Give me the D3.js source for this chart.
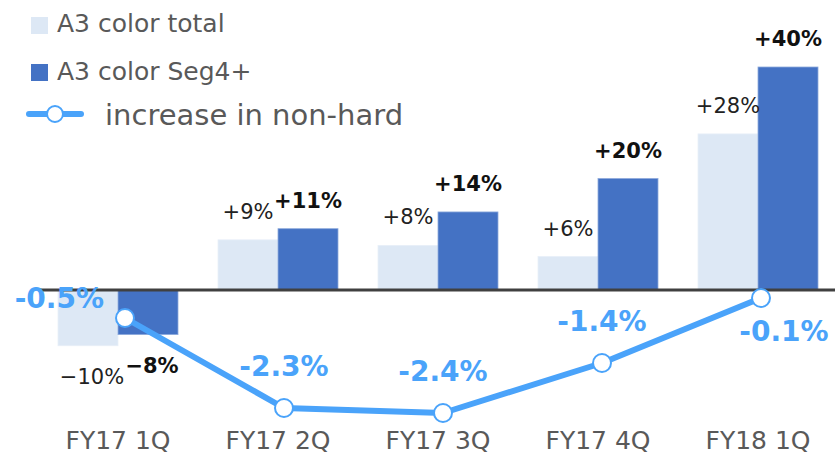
<!DOCTYPE html>
<html>
<head>
<meta charset="utf-8">
<script src="https://cdn.jsdelivr.net/npm/d3@7/dist/d3.min.js"></script>
<style>
  body { margin: 0; background: #fff; }
  svg { display: block; font-family: 'DejaVu Sans', sans-serif; }
</style>
</head>
<body>
<div id="chart"></div>
<script>
const categories = ['FY17 1Q', 'FY17 2Q', 'FY17 3Q', 'FY17 4Q', 'FY18 1Q'];
const colorTotal = [-10, 9, 8, 6, 28];
const colorSeg4 = [-8, 11, 14, 20, 40];
const nonHard = [-0.5, -2.3, -2.4, -1.4, -0.1];
// where each line label sits relative to its point
const lineLabelSide = ['left', 'top', 'top', 'top', 'below'];

const seriesNames = ['A3 color total', 'A3 color Seg4+', 'increase in non-hard'];

const width = 835;
const height = 454;

const lightColor = '#dde8f5';
const darkColor = '#4472c4';
const lineColor = '#4aa3fa';
const axisColor = '#404040';
const textGray = '#595959';

const svg = d3.select('#chart')
  .append('svg')
  .attr('width', width)
  .attr('height', height);

const x0 = d3.scaleBand()
  .domain(categories)
  .range([38, 838])
  .paddingInner(0.25)
  .paddingOuter(0.125);

const x1 = d3.scaleBand()
  .domain(['total', 'seg'])
  .range([0, x0.bandwidth()]);

const y = d3.scaleLinear()
  .domain([0, 40])
  .range([290, 67]);

const xLine = d3.scalePoint()
  .domain(categories)
  .range([125, 761]);

const yLine = d3.scaleLinear()
  .domain([0, -2.4])
  .range([293, 413]);

const barRows = categories.map((c, i) => ({
  cat: c,
  values: [
    { key: 'total', v: colorTotal[i] },
    { key: 'seg', v: colorSeg4[i] }
  ]
}));

const groups = svg.append('g')
  .attr('class', 'bars')
  .selectAll('g')
  .data(barRows)
  .join('g')
  .attr('transform', d => `translate(${x0(d.cat)},0)`);

groups.selectAll('rect')
  .data(d => d.values)
  .join('rect')
  .attr('x', d => x1(d.key))
  .attr('width', x1.bandwidth())
  .attr('y', d => Math.min(y(d.v), y(0)))
  .attr('height', d => Math.abs(y(d.v) - y(0)))
  .attr('fill', d => d.key === 'total' ? lightColor : darkColor)
  .attr('stroke', d => d.key === 'total' ? '#e8eff8' : '#8eaadc')
  .attr('stroke-width', 0.8);

const fmtBar = v => (v > 0 ? '+' : '\u2212') + Math.abs(v) + '%';

groups.selectAll('text')
  .data(d => d.values)
  .join('text')
  .attr('x', d => x1(d.key) + x1.bandwidth() / 2 + (d.v < 0 ? 4 : 0))
  .attr('y', d => d.v >= 0 ? y(d.v) - 21 : y(d.v) + 38)
  .attr('text-anchor', 'middle')
  .style('font-size', '21px')
  .style('font-weight', d => d.key === 'seg' ? 700 : 400)
  .attr('fill', d => d.key === 'seg' ? '#111' : '#222')
  .text(d => fmtBar(d.v));

// zero line
svg.append('line')
  .attr('x1', 38)
  .attr('x2', width)
  .attr('y1', y(0))
  .attr('y2', y(0))
  .attr('stroke', axisColor)
  .attr('stroke-width', 3);

// category labels
svg.append('g')
  .selectAll('text')
  .data(categories)
  .join('text')
  .attr('x', d => x0(d) + x0.bandwidth() / 2)
  .attr('y', 449)
  .attr('text-anchor', 'middle')
  .style('font-size', '25px')
  .attr('fill', textGray)
  .text(d => d);

// non-hard line
const linePts = categories.map((c, i) => ({ cat: c, v: nonHard[i], side: lineLabelSide[i] }));

svg.append('path')
  .datum(linePts)
  .attr('fill', 'none')
  .attr('stroke', lineColor)
  .attr('stroke-width', 6)
  .attr('stroke-linejoin', 'round')
  .attr('d', d3.line().x(d => xLine(d.cat)).y(d => yLine(d.v)));

svg.append('g')
  .selectAll('circle')
  .data(linePts)
  .join('circle')
  .attr('cx', d => xLine(d.cat))
  .attr('cy', d => yLine(d.v))
  .attr('r', 9)
  .attr('fill', '#fff')
  .attr('stroke', lineColor)
  .attr('stroke-width', 2);

svg.append('g')
  .selectAll('text')
  .data(linePts)
  .join('text')
  .attr('x', d => xLine(d.cat) + (d.side === 'left' ? -21 : d.side === 'below' ? 23 : 0))
  .attr('y', d => yLine(d.v) + (d.side === 'left' ? -10 : d.side === 'below' ? 43 : -32))
  .attr('text-anchor', d => d.side === 'left' ? 'end' : 'middle')
  .style('font-size', '28px')
  .style('font-weight', 700)
  .attr('fill', lineColor)
  .text(d => d.v.toFixed(1) + '%');

// legend
const legend = svg.append('g').attr('class', 'legend');

legend.append('rect')
  .attr('x', 31).attr('y', 17).attr('width', 17).attr('height', 17)
  .attr('fill', lightColor);
legend.append('text')
  .attr('x', 57).attr('y', 32)
  .style('font-size', '25px')
  .attr('fill', textGray)
  .text(seriesNames[0]);

legend.append('rect')
  .attr('x', 31).attr('y', 64).attr('width', 17).attr('height', 17)
  .attr('fill', darkColor);
legend.append('text')
  .attr('x', 57).attr('y', 80)
  .style('font-size', '25px')
  .attr('fill', textGray)
  .text(seriesNames[1]);

legend.append('line')
  .attr('x1', 29).attr('x2', 81).attr('y1', 114).attr('y2', 114)
  .attr('stroke', lineColor)
  .attr('stroke-width', 6)
  .attr('stroke-linecap', 'round');
legend.append('circle')
  .attr('cx', 55).attr('cy', 114).attr('r', 8)
  .attr('fill', '#fff')
  .attr('stroke', lineColor)
  .attr('stroke-width', 2);
legend.append('text')
  .attr('x', 105).attr('y', 125)
  .style('font-size', '29px')
  .attr('fill', textGray)
  .text(seriesNames[2]);
</script>
</body>
</html>
